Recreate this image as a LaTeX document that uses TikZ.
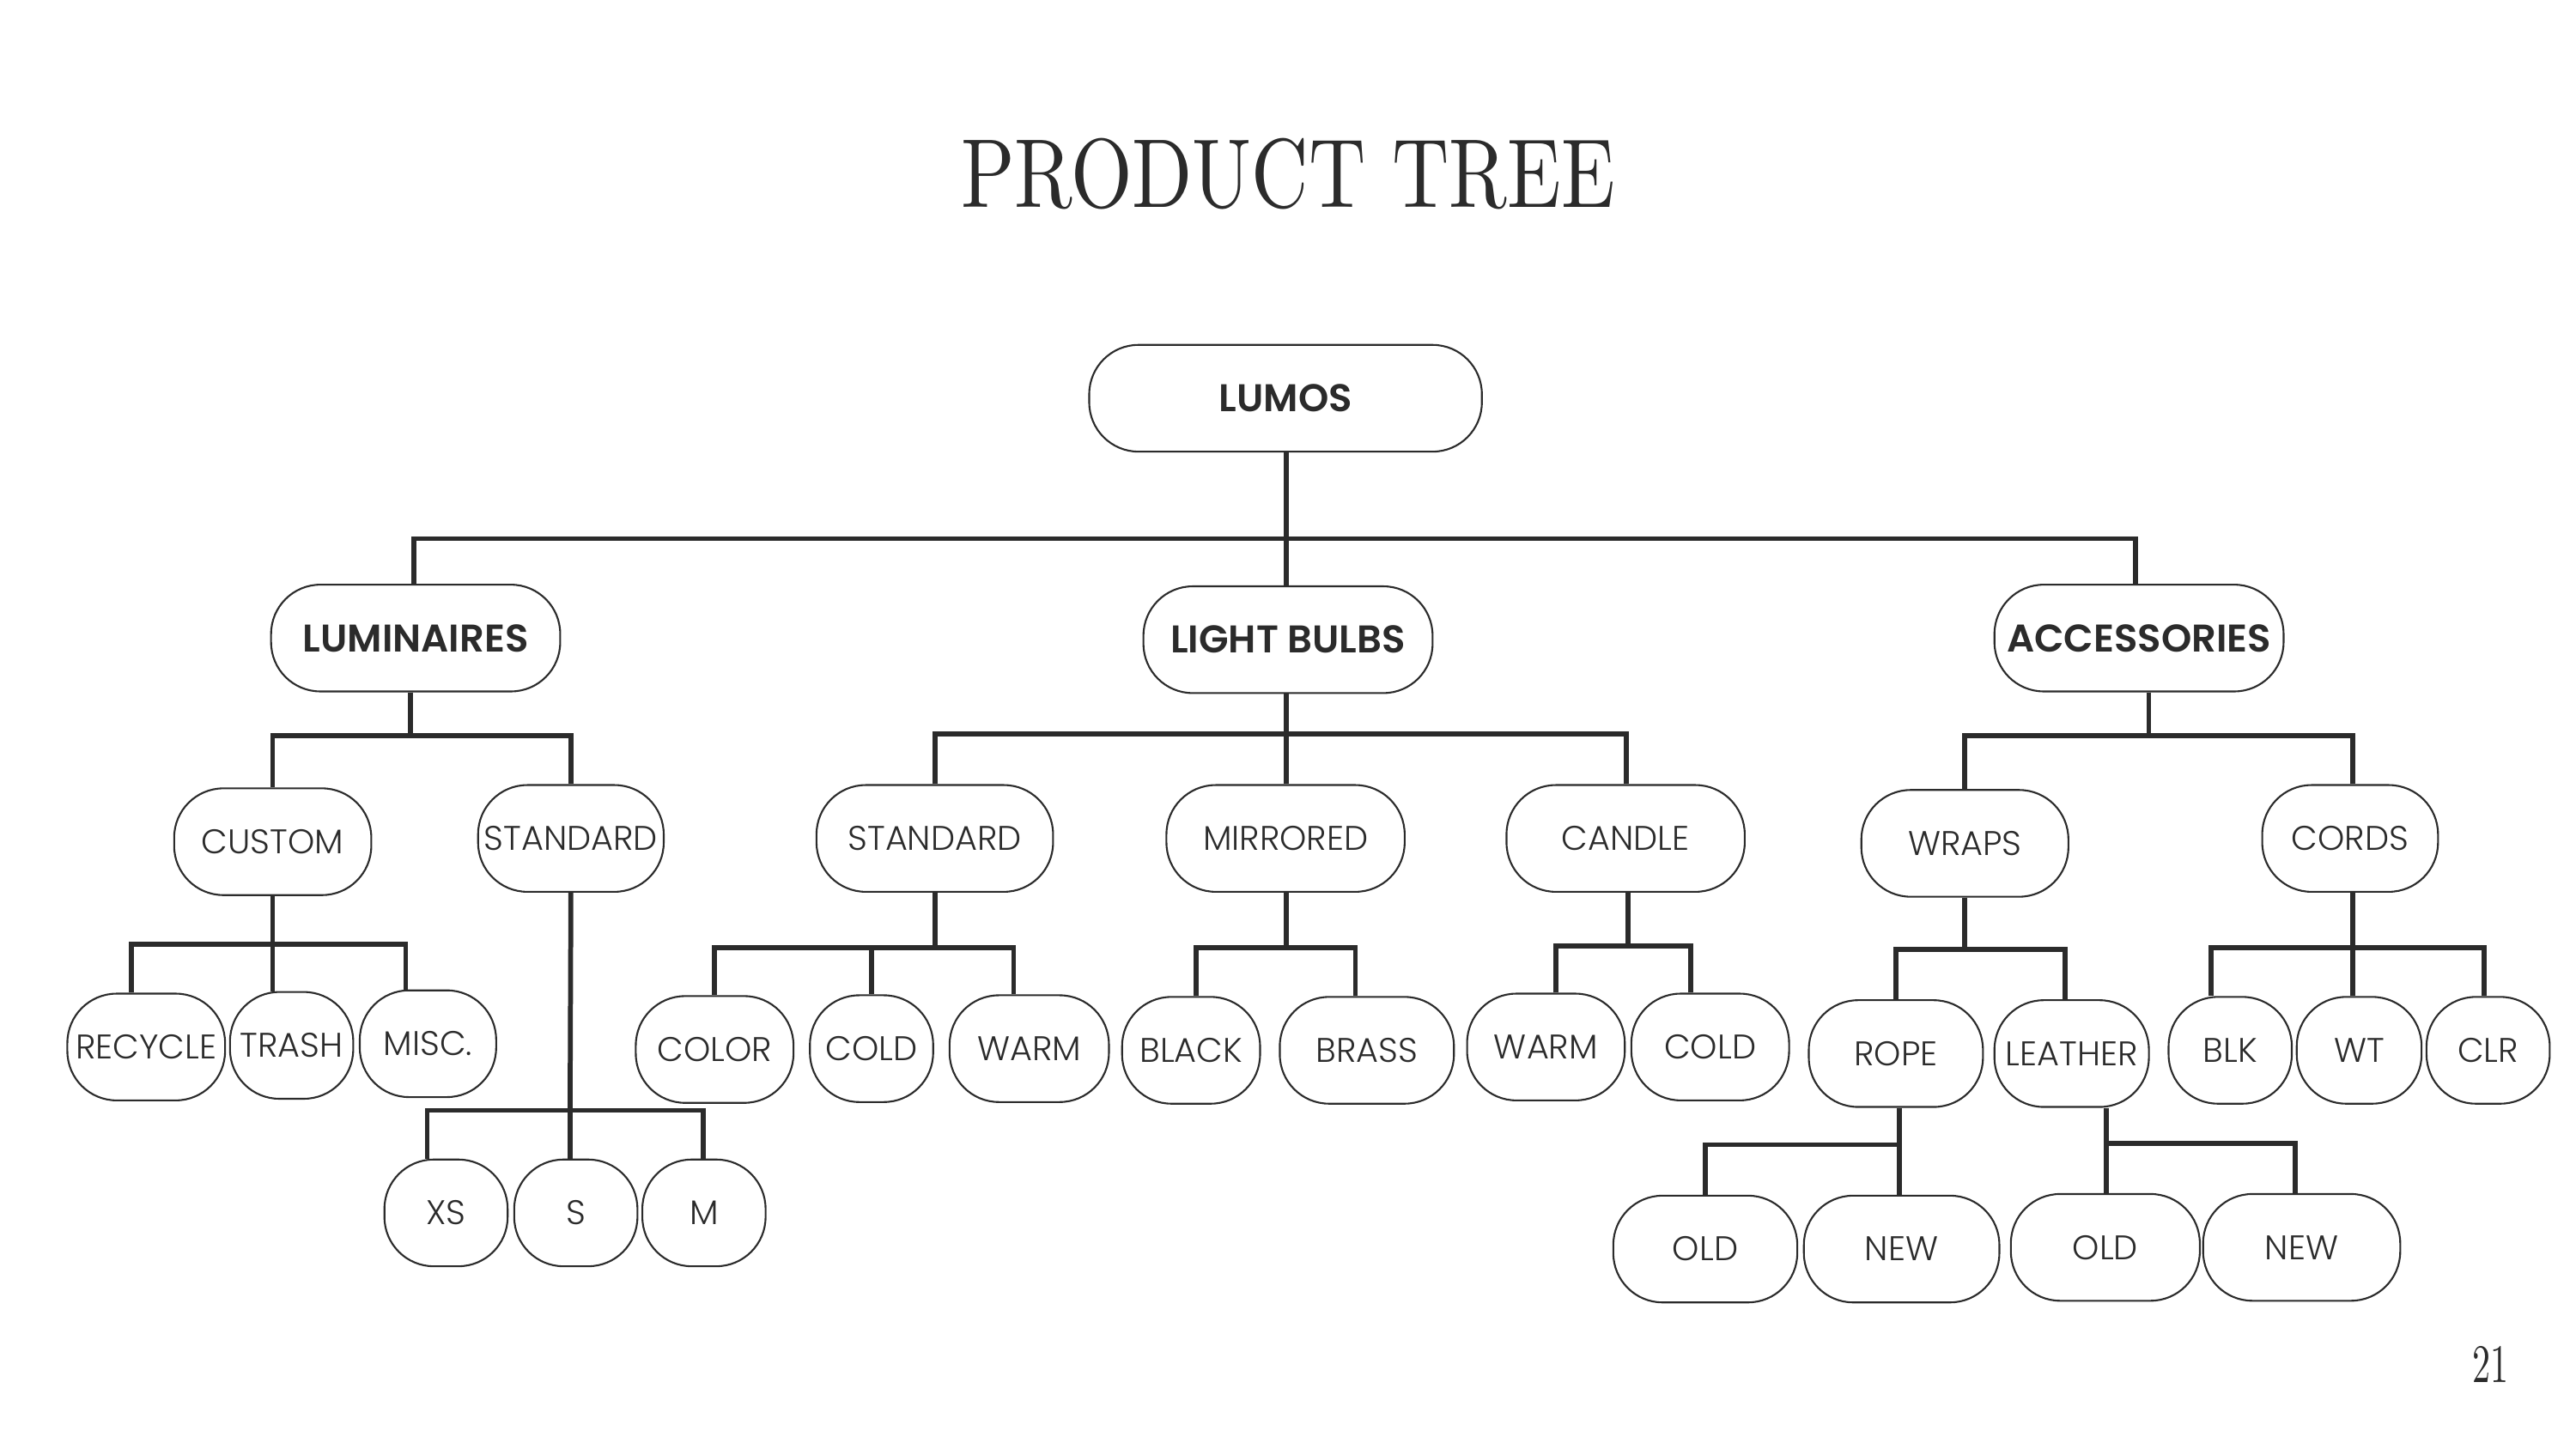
\documentclass[tikz,border=0pt]{standalone}
\usepackage{fontspec}
\usepackage{graphicx}
\newfontfamily\lightf{Poppins Light}
\newfontfamily\boldf{Poppins SemiBold}
\newfontfamily\titlef{Latin Modern Roman}
\definecolor{ink}{HTML}{2B2B2B}
\tikzset{
  box/.style={draw=ink, line width=1.1pt, rounded corners=30pt, fill=white,
    inner sep=0pt, text=ink, minimum height=65pt},
  lbox/.style={box, font=\lightf\fontsize{20.8}{21}\selectfont},
  bbox/.style={box, font=\boldf\fontsize{23.5}{24}\selectfont},
  link/.style={draw=ink, line width=3pt},
}
\begin{document}
\begin{tikzpicture}[x=1pt,y=-1pt]
\useasboundingbox[fill=white] (0,0) rectangle (1568,882);

% title and page number
\node[text=ink, inner sep=0pt] (title) at (784,106) {\resizebox{398pt}{42pt}{\titlef PRODUCT TREE}};
\node[text=ink, inner sep=0pt] (page) at (1516,831) {\resizebox{22pt}{22pt}{\titlef 21}};

% level 0 and 1
\node[bbox, minimum width=239pt] (lumos) at (782.5,242.5) {LUMOS};
\node[bbox, minimum width=176pt] (lum) at (253,388.5) {LUMINAIRES};
\node[bbox, minimum width=176pt] (lb) at (784,389.5) {LIGHT BULBS};
\node[bbox, minimum width=176pt] (acc) at (1302,388.5) {ACCESSORIES};

% level 2
\node[lbox, minimum width=120pt] (custom) at (166,512.5) {CUSTOM};
\node[lbox, minimum width=113pt] (lstd) at (347.5,510.5) {STANDARD};
\node[lbox, minimum width=144pt] (bstd) at (569,510.5) {STANDARD};
\node[lbox, minimum width=145pt] (mirr) at (782.5,510.5) {MIRRORED};
\node[lbox, minimum width=145pt] (cand) at (989.5,510.5) {CANDLE};
\node[lbox, minimum width=126pt] (wraps) at (1196,513.5) {WRAPS};
\node[lbox, minimum width=107pt] (cords) at (1430.5,510.5) {CORDS};

% level 3
\node[lbox, minimum width=96pt] (recycle) at (89,637.5) {RECYCLE};
\node[lbox, minimum width=75pt] (trash) at (177.5,636.5) {TRASH};
\node[lbox, minimum width=83pt] (misc) at (260.5,635.5) {MISC.};
\node[lbox, minimum width=96pt] (color) at (435,639) {COLOR};
\node[lbox, minimum width=75pt] (cold1) at (530.5,638.5) {COLD};
\node[lbox, minimum width=97pt] (warm1) at (626.5,638.5) {WARM};
\node[lbox, minimum width=84pt] (black) at (725,639.5) {BLACK};
\node[lbox, minimum width=106pt] (brass) at (832,639.5) {BRASS};
\node[lbox, minimum width=96pt] (warm2) at (941,637.5) {WARM};
\node[lbox, minimum width=96pt] (cold2) at (1041,637.5) {COLD};
\node[lbox, minimum width=106pt] (rope) at (1154,641.5) {ROPE};
\node[lbox, minimum width=94pt] (leather) at (1261,641.5) {LEATHER};
\node[lbox, minimum width=75pt] (blk) at (1357.5,639.5) {BLK};
\node[lbox, minimum width=76pt] (wt) at (1436,639.5) {WT};
\node[lbox, minimum width=75pt] (clr) at (1514.5,639.5) {CLR};

% level 4
\node[lbox, minimum width=75pt] (xs) at (271.5,738.5) {XS};
\node[lbox, minimum width=75pt] (s) at (350.5,738.5) {S};
\node[lbox, minimum width=75pt] (m) at (428.5,738.5) {M};
\node[lbox, minimum width=112pt] (old1) at (1038,760.5) {OLD};
\node[lbox, minimum width=119pt] (new1) at (1157.5,760.5) {NEW};
\node[lbox, minimum width=115pt] (old2) at (1281.5,759.5) {OLD};
\node[lbox, minimum width=120pt] (new2) at (1401,759.5) {NEW};

% bar coordinates
\coordinate (b0) at (783,328);
\coordinate (bLum) at (250,448);
\coordinate (bLb) at (783,447);
\coordinate (bAcc) at (1308,448);
\coordinate (bCus) at (166,575);
\coordinate (bLstd) at (347,676);
\coordinate (bBstd) at (569,577);
\coordinate (bMirr) at (783,577);
\coordinate (bCand) at (991,576);
\coordinate (bWraps) at (1196,578);
\coordinate (bCords) at (1432,577);
\coordinate (bRope) at (1156,697);
\coordinate (bLeath) at (1282,696);

% connectors: level 0 -> 1
\draw[link] ([xshift=0.5pt]lumos.south) -- (b0);
\draw[link] ([xshift=-1pt]lum.north) |- (b0);
\draw[link] ([xshift=-1pt]lb.north) -- (b0);
\draw[link] ([xshift=-2pt]acc.north) |- (b0);

% level 1 -> 2
\draw[link] ([xshift=-3pt]lum.south) -- (bLum);
\draw[link] (custom.north) |- (bLum);
\draw[link] (lstd.north) |- (bLum);
\draw[link] ([xshift=-1pt]lb.south) -- (bLb);
\draw[link] (bstd.north) |- (bLb);
\draw[link] ([xshift=0.5pt]mirr.north) -- (bLb);
\draw[link] ([xshift=0.5pt]cand.north) |- (bLb);
\draw[link] ([xshift=6pt]acc.south) -- (bAcc);
\draw[link] (wraps.north) |- (bAcc);
\draw[link] ([xshift=1.5pt]cords.north) |- (bAcc);

% level 2 -> 3
\draw[link] (custom.south) -- (bCus);
\draw[link] ([xshift=-9pt]recycle.north) |- (bCus);
\draw[link] ([xshift=-11.5pt]trash.north) -- (bCus);
\draw[link] ([xshift=-13.5pt]misc.north) |- (bCus);
\draw[link] (bstd.south) -- (bBstd);
\draw[link] (color.north) |- (bBstd);
\draw[link] (cold1.north) |- (bBstd);
\draw[link] ([xshift=-9.5pt]warm1.north) |- (bBstd);
\draw[link] ([xshift=0.5pt]mirr.south) -- (bMirr);
\draw[link] ([xshift=3pt]black.north) |- (bMirr);
\draw[link] ([xshift=-7pt]brass.north) |- (bMirr);
\draw[link] ([xshift=1.5pt]cand.south) -- (bCand);
\draw[link] ([xshift=6pt]warm2.north) |- (bCand);
\draw[link] ([xshift=-12pt]cold2.north) |- (bCand);
\draw[link] (wraps.south) -- (bWraps);
\draw[link] (rope.north) |- (bWraps);
\draw[link] ([xshift=-4pt]leather.north) |- (bWraps);
\draw[link] ([xshift=1.5pt]cords.south) -- (bCords);
\draw[link] ([xshift=-11.5pt]blk.north) |- (bCords);
\draw[link] ([xshift=-4pt]wt.north) -- (bCords);
\draw[link] ([xshift=-2.5pt]clr.north) |- (bCords);

% level 2 -> 4 (luminaires standard)
\draw[link] (lstd.south) -- (bLstd);
\draw[link] ([xshift=-11.5pt]xs.north) |- (bLstd);
\draw[link] ([xshift=-3.5pt]s.north) -- (bLstd);
\draw[link] ([xshift=-0.5pt]m.north) |- (bLstd);

% level 3 -> 4
\draw[link] ([xshift=2pt]rope.south) -- (bRope);
\draw[link] (old1.north) |- (bRope);
\draw[link] ([xshift=-1.5pt]new1.north) -- (bRope);
\draw[link] ([xshift=21pt]leather.south) -- (bLeath);
\draw[link] ([xshift=0.5pt]old2.north) -- (bLeath);
\draw[link] ([xshift=-4pt]new2.north) |- (bLeath);
\end{tikzpicture}
\end{document}
